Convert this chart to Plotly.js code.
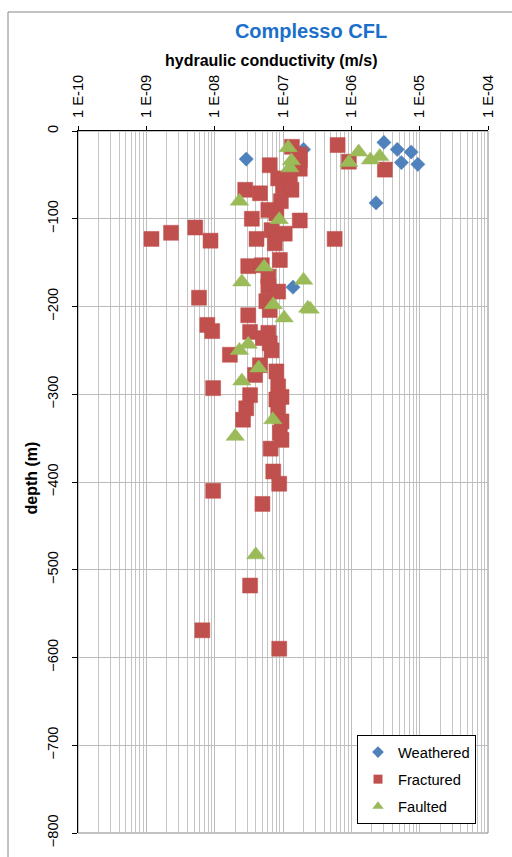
<!DOCTYPE html>
<html>
<head>
<meta charset="utf-8">
<script src="https://cdn.plot.ly/plotly-3.0.1.min.js"></script>
<style>html,body{margin:0;padding:0;background:#fff;}#chart{width:512px;height:857px;}</style>
</head>
<body>
<div id="chart"></div>
<script>
// Hydraulic conductivity (m/s) and depth (m)
const weatheredK = [2.9e-8, 2.0e-7, 3.0e-6, 4.7e-6, 7.5e-6, 5.4e-6, 9.4e-6, 2.3e-6, 1.4e-7];
const weatheredD = [-32, -21, -13, -21, -24, -36, -38, -82, -178];

const fracturedK = [
  1.35e-7, 1.76e-7, 1.76e-7, 1.76e-7, 6.3e-7, 9.2e-7, 3.1e-6, 6.4e-8, 8.5e-8, 1.26e-7,
  1.0e-7, 1.33e-7, 2.8e-8, 4.6e-8, 9.3e-8, 6.1e-8, 8.0e-8, 3.5e-8, 1.76e-7, 6.8e-8,
  1.06e-7, 4.1e-8, 7.6e-8, 5.7e-7, 8.7e-9, 1.19e-9, 2.3e-9, 5.2e-9, 5.9e-9,
  9.0e-8, 3.1e-8, 4.9e-8, 6.1e-8, 6.1e-8, 8.5e-8, 5.7e-8, 6.4e-8, 3.1e-8, 3.3e-8,
  6.1e-8, 5.1e-8, 6.4e-8, 6.8e-8, 1.67e-8, 7.8e-9, 9.2e-9, 4.6e-8, 3.9e-8, 8.0e-8,
  8.5e-8, 9.5e-8, 8.0e-8, 3.3e-8, 2.9e-8, 2.6e-8, 8.5e-8, 9.5e-8, 9.0e-8, 9.5e-8,
  6.6e-8, 9.5e-9, 7.2e-8, 8.8e-8, 9.5e-9, 5.0e-8, 3.3e-8, 6.6e-9, 8.8e-8
];
const fracturedD = [
  -18, -27, -33, -43, -16, -35, -44, -39, -54, -54,
  -63, -67, -67, -71, -80, -90, -94, -100, -102, -113,
  -117, -123, -128, -123, -125, -123, -116, -110, -190,
  -147, -154, -153, -166, -177, -183, -194, -204, -210, -229,
  -230, -236, -242, -250, -255, -221, -228, -267, -278, -274,
  -291, -303, -306, -301, -316, -329, -317, -331, -344, -352,
  -362, -293, -388, -402, -410, -425, -518, -569, -590
];

const faultedK = [
  1.19e-7, 1.33e-7, 1.26e-7, 9.2e-7, 1.28e-6, 1.9e-6, 2.6e-6, 2.3e-8, 8.8e-8,
  5.3e-8, 2.5e-8, 2.0e-7, 7.2e-8, 2.3e-7, 2.5e-7, 1.04e-7, 3.1e-8, 2.3e-8,
  4.4e-8, 2.5e-8, 7.1e-8, 2.0e-8, 4.0e-8
];
const faultedD = [
  -19, -34, -42, -36, -24, -33, -29, -80, -101,
  -155, -172, -170, -198, -202, -203, -213, -243, -250,
  -270, -285, -329, -348, -483
];

const seriesNames = ['Weathered', 'Fractured', 'Faulted'];
const xTickVals = [1e-10, 1e-9, 1e-8, 1e-7, 1e-6, 1e-5, 1e-4];
const xTickText = ['1 E-10', '1 E-09', '1 E-08', '1 E-07', '1 E-06', '1 E-05', '1 E-04'];
const yTickVals = [0, -100, -200, -300, -400, -500, -600, -700, -800];

const FONT = 'Liberation Sans, Arial, sans-serif';
const COLORS = ['#4F81BD', '#C0504D', '#9BBB59'];
const SYMBOLS = ['diamond', 'square', 'triangle-up'];
const SIZES = [11, 15, 16];
const LEG_SIZES = [9, 9, 10];

const dataX = [weatheredK, fracturedK, faultedK];
const dataY = [weatheredD, fracturedD, faultedD];

const traces = [];
for (let i = 0; i < 3; i++) {
  traces.push({x: dataX[i], y: dataY[i], name: seriesNames[i], mode: 'markers', type: 'scatter',
    showlegend: false,
    marker: {symbol: SYMBOLS[i], size: SIZES[i], color: COLORS[i], line: {color: COLORS[i], width: 0.5}}});
}
// legend entries (smaller symbols as in the original legend)
for (let i = 0; i < 3; i++) {
  traces.push({x: [null], y: [null], name: seriesNames[i], mode: 'markers', type: 'scatter',
    legendgroup: 'g' + i, showlegend: true,
    marker: {symbol: SYMBOLS[i], size: LEG_SIZES[i], color: COLORS[i]}});
}

const px2x = p => (p - 78) / 410;
const px2y = p => (833 - p) / 702;

const layout = {
  width: 512, height: 857,
  margin: {l: 78, r: 24, t: 131, b: 24},
  paper_bgcolor: '#ffffff', plot_bgcolor: '#ffffff',
  font: {family: FONT, size: 14.7, color: '#000'},
  showlegend: true,
  title: {text: '<b>Complesso CFL</b>', font: {family: FONT, size: 20, color: '#1A6FCB'},
          x: 291/512, xanchor: 'center', xref: 'paper', y: 1 - 31/857, yanchor: 'middle'},
  xaxis: {
    type: 'log', range: [-10, -4], side: 'top',
    tickvals: xTickVals, ticktext: xTickText, tickangle: -90,
    tickfont: {family: FONT, size: 14.7}, ticks: 'outside', ticklen: 4, tickcolor: '#000',
    ticklabelstandoff: 5,
    showline: true, linecolor: '#000', linewidth: 1,
    showgrid: true, gridcolor: '#bcbcbc', gridwidth: 1,
    minor: {dtick: 'D1', showgrid: true, gridcolor: '#c4c4c4', gridwidth: 1, ticks: ''},
    zeroline: false
  },
  yaxis: {
    range: [-800, 0], tickvals: yTickVals, tickangle: -90,
    tickfont: {family: FONT, size: 14.7}, ticks: 'outside', ticklen: 5, tickcolor: '#000',
    ticklabelstandoff: 8,
    showline: true, linecolor: '#000', linewidth: 1,
    showgrid: true, gridcolor: '#bcbcbc', gridwidth: 1, zeroline: false
  },
  annotations: [
    {text: '<b>hydraulic conductivity (m/s)</b>', xref: 'paper', yref: 'paper',
     x: px2x(270.5), y: px2y(60), xanchor: 'center', yanchor: 'middle', showarrow: false,
     font: {family: FONT, size: 16, color: '#000'}},
    {text: '<b>depth (m)</b>', xref: 'paper', yref: 'paper', textangle: -90,
     x: px2x(31), y: px2y(478.5), xanchor: 'center', yanchor: 'middle', showarrow: false,
     font: {family: FONT, size: 16, color: '#000'}}
  ],
  legend: {
    x: px2x(357), xanchor: 'left', y: px2y(735), yanchor: 'top',
    bgcolor: '#ffffff', bordercolor: '#000', borderwidth: 1,
    font: {family: FONT, size: 14.7}, traceorder: 'grouped', tracegroupgap: 5
  },
  shapes: [
    {type: 'rect', xref: 'paper', yref: 'paper', x0: 0, x1: 1, y0: 0, y1: 1,
     line: {color: '#868686', width: 1}, layer: 'below'},
    {type: 'line', xref: 'paper', yref: 'paper', x0: px2x(8), x1: px2x(512),
     y0: px2y(12), y1: px2y(12), line: {color: '#868686', width: 1}},
    {type: 'line', xref: 'paper', yref: 'paper', x0: px2x(8), x1: px2x(8),
     y0: px2y(12), y1: px2y(857), line: {color: '#868686', width: 1}}
  ]
};

Plotly.newPlot('chart', traces, layout, {displayModeBar: false, staticPlot: true});
</script>
</body>
</html>
